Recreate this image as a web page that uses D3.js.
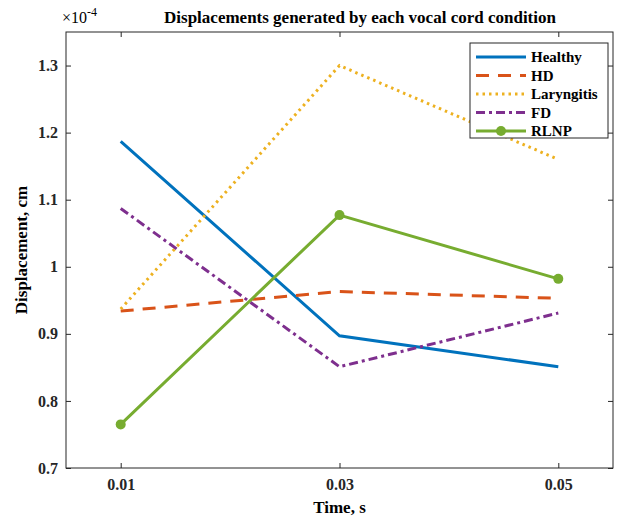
<!DOCTYPE html>
<meta charset="utf-8">
<style>
body { margin: 0; background: #fff; }
text { font-family: "Liberation Serif", "Times New Roman", serif; font-weight: bold; }
.tick text { font-size: 16px; fill: #262626; }
</style>
<svg width="624" height="518"></svg>
<script src="https://d3js.org/d3.v7.min.js"></script>
<script>

var times = [0.01, 0.03, 0.05];
var seriesNames = ["Healthy", "HD", "Laryngitis", "FD", "RLNP"];
var healthy    = [1.187, 0.897, 0.851];
var hd         = [0.934, 0.963, 0.953];
var laryngitis = [0.937, 1.300, 1.160];
var fd         = [1.087, 0.851, 0.931];
var rlnp       = [0.765, 1.077, 0.982];
var yTicks = [0.7, 0.8, 0.9, 1, 1.1, 1.2, 1.3];

var colors = ["#0072BD", "#D95319", "#EDB120", "#7E2F8E", "#77AC30"];
var dashes = [null, "13,9", "2.5,4", "9,4,3,4", null];
var values = [healthy, hd, laryngitis, fd, rlnp];

var svg = d3.select("svg");
var pLeft = 66, pTop = 32, pRight = 613, pBottom = 468;

var x = d3.scaleLinear().domain([0.005, 0.055]).range([pLeft, pRight]);
var y = d3.scaleLinear().domain([0.7, 1.35]).range([pBottom, pTop]);

// axes with inward ticks, box on
var tk = 5;
svg.append("g").attr("transform", "translate(0," + pBottom + ")")
    .call(d3.axisBottom(x).tickValues(times).tickSize(-tk).tickPadding(11).tickFormat(d3.format(".2f")));
svg.append("g").attr("transform", "translate(0," + pTop + ")")
    .call(d3.axisTop(x).tickValues(times).tickSize(-tk).tickFormat(""));
svg.append("g").attr("transform", "translate(" + pLeft + ",0)")
    .call(d3.axisLeft(y).tickValues(yTicks).tickSize(-tk).tickPadding(8).tickFormat(function(d) { return d === 1 ? "1" : d3.format(".1f")(d); }));
svg.append("g").attr("transform", "translate(" + pRight + ",0)")
    .call(d3.axisRight(y).tickValues(yTicks).tickSize(-tk).tickFormat(""));
svg.selectAll(".domain").remove();
svg.selectAll(".tick line").attr("stroke", "#262626");

svg.append("rect")
    .attr("x", pLeft).attr("y", pTop)
    .attr("width", pRight - pLeft).attr("height", pBottom - pTop)
    .attr("fill", "none").attr("stroke", "#262626").attr("stroke-width", 1);

var line = d3.line()
    .x(function(d, i) { return x(times[i]); })
    .y(function(d) { return y(d); });

values.forEach(function(v, k) {
  svg.append("path")
      .datum(v)
      .attr("d", line)
      .attr("fill", "none")
      .attr("stroke", colors[k])
      .attr("stroke-width", 3)
      .attr("stroke-dasharray", dashes[k]);
});

svg.selectAll(".dot")
  .data(rlnp)
  .enter().append("circle")
    .attr("cx", function(d, i) { return x(times[i]); })
    .attr("cy", function(d) { return y(d); })
    .attr("r", 5)
    .attr("fill", colors[4]);

// titles
svg.append("text")
    .attr("x", 360).attr("y", 23)
    .attr("text-anchor", "middle")
    .style("font-size", "17px")
    .text("Displacements generated by each vocal cord condition");

var exp = svg.append("text").attr("x", 62).attr("y", 23).style("font-size", "16px").style("font-weight", "normal");
exp.append("tspan").text("\u00d710");
exp.append("tspan").attr("dy", -7).style("font-size", "12px").text("-4");

svg.append("text")
    .attr("x", (pLeft + pRight) / 2).attr("y", 513)
    .attr("text-anchor", "middle")
    .style("font-size", "17px")
    .text("Time, s");

svg.append("text")
    .attr("transform", "translate(27," + ((pTop + pBottom) / 2) + ") rotate(-90)")
    .attr("text-anchor", "middle")
    .style("font-size", "17px")
    .text("Displacement, cm");

// legend
var lg = svg.append("g").attr("transform", "translate(470,43)");
lg.append("rect").attr("width", 138).attr("height", 95)
    .attr("fill", "#fff").attr("stroke", "#262626").attr("stroke-width", 1);
seriesNames.forEach(function(name, k) {
  var yy = 14 + k * 18.5;
  lg.append("line").attr("x1", 6).attr("x2", 56).attr("y1", yy).attr("y2", yy)
      .attr("stroke", colors[k]).attr("stroke-width", 3)
      .attr("stroke-dasharray", dashes[k]);
  if (k === 4) lg.append("circle").attr("cx", 31).attr("cy", yy).attr("r", 5).attr("fill", colors[k]);
  lg.append("text").attr("x", 61).attr("y", yy + 5)
      .style("font-size", "15px").attr("fill", "#000").text(name);
});

</script>
